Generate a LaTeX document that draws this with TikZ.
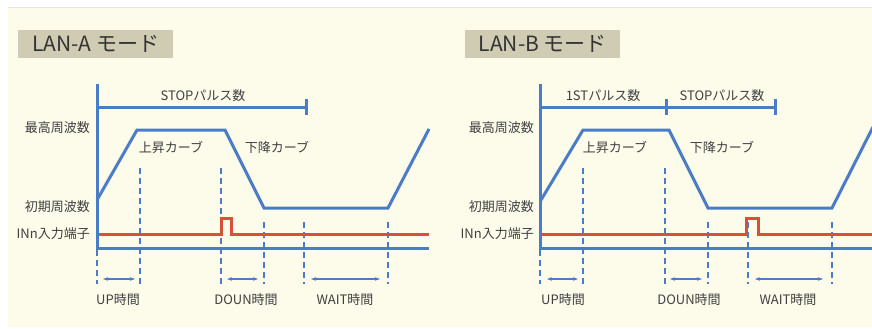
\documentclass[tikz,border=0pt]{standalone}
\usepackage{fontspec}
\setmainfont{Noto Sans CJK JP}
\usetikzlibrary{arrows.meta}
\definecolor{cream}{HTML}{FDFBEA}
\definecolor{titlebg}{HTML}{CFCCB3}
\definecolor{lblue}{HTML}{4A7CC8}
\definecolor{lred}{HTML}{D9503A}
\definecolor{txt}{HTML}{404040}
\tikzset{
  wave/.style={lblue, line width=3pt, line join=miter},
  redline/.style={lred, line width=3pt, line join=miter},
  guide/.style={lblue, line width=2.6pt, dash pattern=on 6pt off 4pt},
  span/.style={lblue, line width=1.2pt, {Stealth[length=5pt,width=3.5pt]}-{Stealth[length=5pt,width=3.5pt]}},
  lbl/.style={text=txt, font=\fontsize{13}{14}\selectfont, inner sep=0pt},
  titlebox/.style={fill=titlebg, text=black!80, font=\fontsize{21}{22}\selectfont,
    minimum width=155pt, minimum height=28pt, inner sep=0pt, anchor=north west}
}
\begin{document}
\begin{tikzpicture}[x=1pt,y=-1pt]
\useasboundingbox (0,0) rectangle (872,329);
\fill[white] (0,0) rectangle (872,329);
\fill[cream] (8,7) rectangle (872,327);
\draw[black!10, line width=0.6pt] (8,7) -- (872,7);

% ---------------- LAN-A ----------------
\node[titlebox] (titleA) at (18,30) {LAN-A モード};
\draw[guide] (140,168) -- (140,284);
\draw[guide] (221,168) -- (221,284);
\draw[guide] (264,222) -- (264,284);
\draw[guide] (304,222) -- (304,284);
\draw[guide] (388,222) -- (388,284);
\draw[guide] (97,250) -- (97,284);
\draw[redline] (97,234) -- (221,234) -- (221,218) -- (231,218) -- (231,234) -- (429,234);
\draw[wave] (97,84) -- (97,248) -- (429,248);
\draw[wave] (97,107) -- (306,107);
\draw[wave] (306,99) -- (306,115);
\draw[wave] (97,200) -- (137,130) -- (225,130) -- (264,208) -- (388,208) -- (429,129);
\node[lbl] (stopA) at (203,96) {STOPパルス数};
\node[lbl, anchor=east] (maxA) at (90,128) {最高周波数};
\node[lbl, anchor=east] (initA) at (90,207) {初期周波数};
\node[lbl, anchor=east] (inA) at (90,234) {INn入力端子};
\node[lbl] (upcA) at (171,147) {上昇カーブ};
\node[lbl] (dncA) at (277,147) {下降カーブ};
\draw[span] (103,279) -- (135,279);
\draw[span] (227,279) -- (258,279);
\draw[span] (311,279) -- (380,279);
\node[lbl] (uptA) at (118,300) {UP時間};
\node[lbl] (dntA) at (246,300) {DOUN時間};
\node[lbl] (wtA) at (345,300) {WAIT時間};

% ---------------- LAN-B ----------------
\node[titlebox] (titleB) at (465,30) {LAN-B モード};
\draw[guide] (583,168) -- (583,284);
\draw[guide] (665,168) -- (665,284);
\draw[guide] (708,222) -- (708,284);
\draw[guide] (748,222) -- (748,284);
\draw[guide] (832,222) -- (832,284);
\draw[guide] (540,250) -- (540,284);
\draw[redline] (540,234) -- (746,234) -- (746,218) -- (758,218) -- (758,234) -- (872,234);
\draw[wave] (540,84) -- (540,248) -- (872,248);
\draw[wave] (540,107) -- (775,107);
\draw[wave] (666,99) -- (666,115);
\draw[wave] (775,99) -- (775,115);
\draw[wave] (541,200) -- (583,130) -- (669,130) -- (708,208) -- (832,208) -- (873,127);
\node[lbl] (firstB) at (603,96) {1STパルス数};
\node[lbl] (stopB) at (722,96) {STOPパルス数};
\node[lbl, anchor=east] (maxB) at (534,128) {最高周波数};
\node[lbl, anchor=east] (initB) at (534,207) {初期周波数};
\node[lbl, anchor=east] (inB) at (534,234) {INn入力端子};
\node[lbl] (upcB) at (615,147) {上昇カーブ};
\node[lbl] (dncB) at (722,147) {下降カーブ};
\draw[span] (547,279) -- (578,279);
\draw[span] (670,279) -- (702,279);
\draw[span] (755,279) -- (823,279);
\node[lbl] (uptB) at (563,300) {UP時間};
\node[lbl] (dntB) at (689,300) {DOUN時間};
\node[lbl] (wtB) at (788,300) {WAIT時間};
\end{tikzpicture}
\end{document}
